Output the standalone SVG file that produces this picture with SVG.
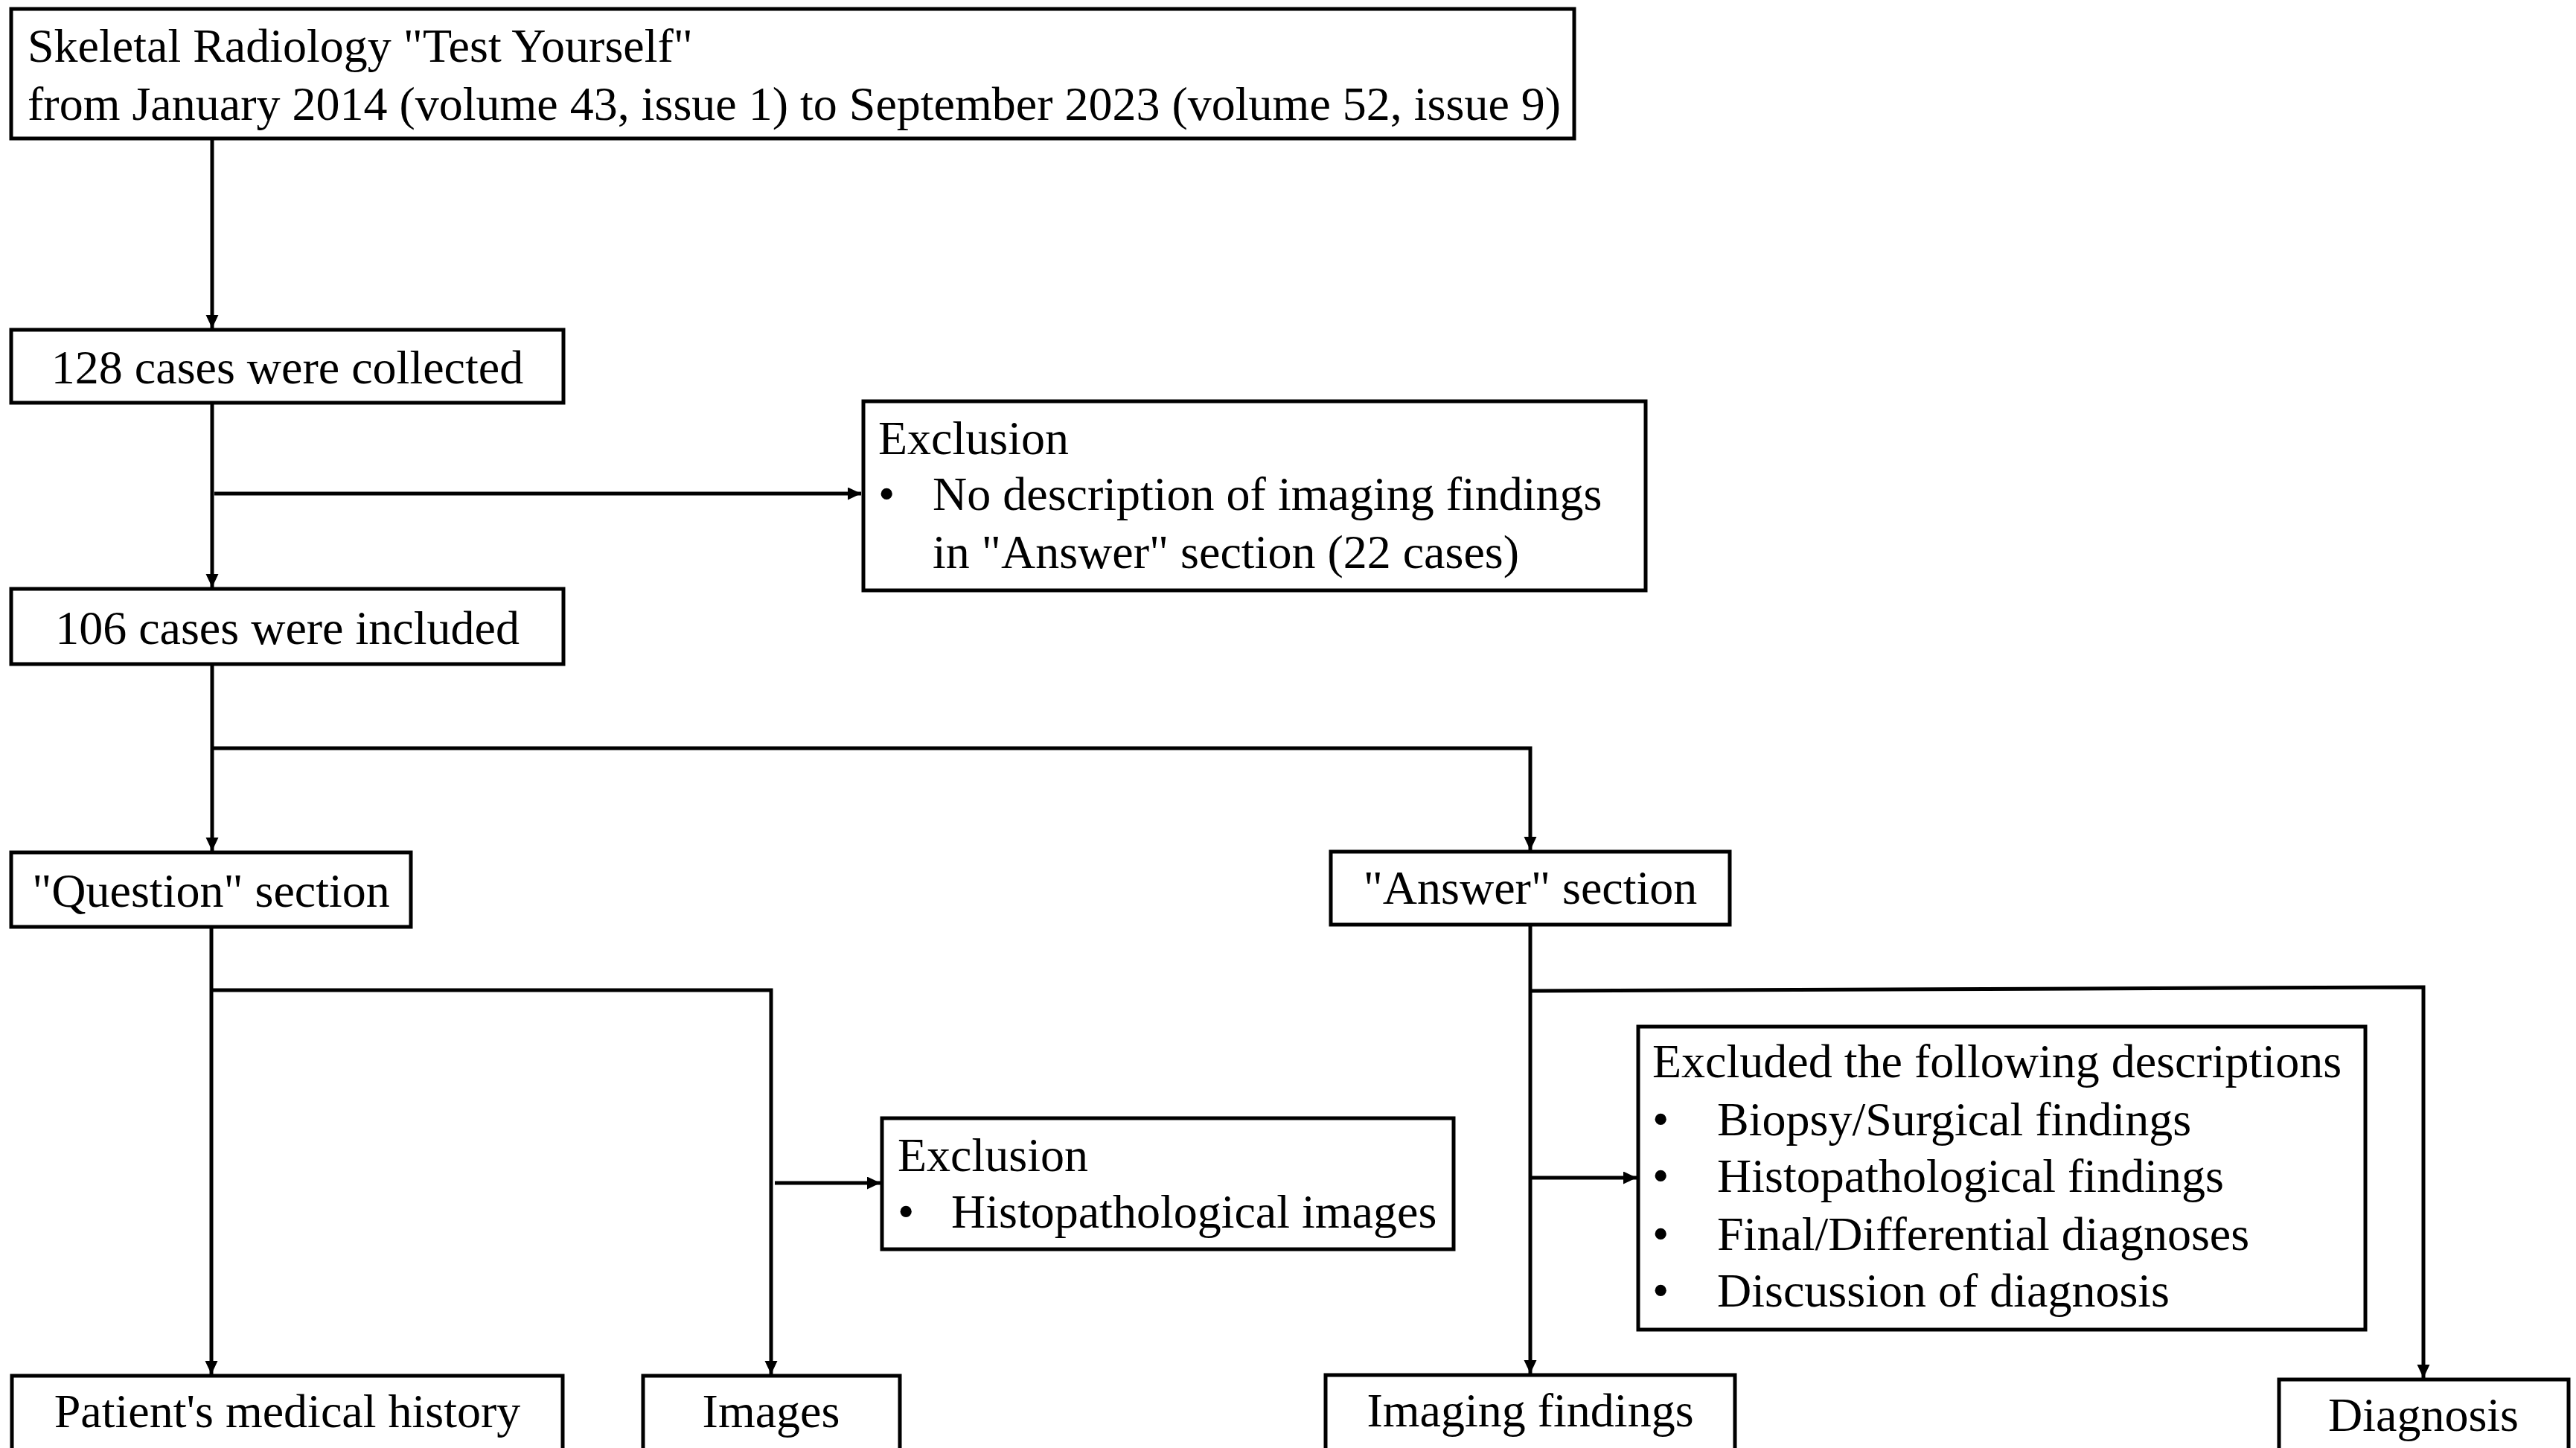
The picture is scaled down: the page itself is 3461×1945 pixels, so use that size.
<svg xmlns="http://www.w3.org/2000/svg" width="3461" height="1945" viewBox="0 0 3461 1945">
<style>
.box{fill:#fff;stroke:#000;stroke-width:5}
.t{font-family:"Liberation Serif","Times New Roman",serif;font-size:64px;fill:#000}
.c{text-anchor:middle}
.ln{fill:none;stroke:#000;stroke-width:5}
</style>
<defs>
<marker id="ah" markerUnits="userSpaceOnUse" markerWidth="20" markerHeight="18" refX="18" refY="8.5" orient="auto">
<path d="M0,0 L18,8.5 L0,17 z" fill="#000"/>
</marker>
</defs>
<rect width="3461" height="1945" fill="#fff"/>
<g id="connectors">
<path class="ln" d="M285,187 V441" marker-end="url(#ah)"/>
<path class="ln" d="M285,541 V789" marker-end="url(#ah)"/>
<path class="ln" d="M288,663 H1157" marker-end="url(#ah)"/>
<path class="ln" d="M285,892 V1143" marker-end="url(#ah)"/>
<path class="ln" d="M285,1005 H2056 V1142" marker-end="url(#ah)"/>
<path class="ln" d="M284,1245 V1846" marker-end="url(#ah)"/>
<path class="ln" d="M284,1330 H1036 V1846" marker-end="url(#ah)"/>
<path class="ln" d="M1041,1589 H1183" marker-end="url(#ah)"/>
<path class="ln" d="M2056,1242 V1845" marker-end="url(#ah)"/>
<path class="ln" d="M2056,1331 L3256,1326 V1851" marker-end="url(#ah)"/>
<path class="ln" d="M2057,1582 H2199" marker-end="url(#ah)"/>
</g>
<g id="n-source">
<rect class="box" x="15" y="12" width="2100" height="174"/>
<text class="t" x="37" y="83">Skeletal Radiology "Test Yourself"</text>
<text class="t" x="37" y="161">from January 2014 (volume 43, issue 1) to September 2023 (volume 52, issue 9)</text>
</g>
<g id="n-collected">
<rect class="box" x="15" y="443" width="742" height="98"/>
<text class="t c" x="386" y="515">128 cases were collected</text>
</g>
<g id="n-exclusion1">
<rect class="box" x="1160" y="539" width="1051" height="254"/>
<text class="t" x="1180" y="610">Exclusion</text>
<text class="t" x="1180" y="685">•</text>
<text class="t" x="1253" y="685">No description of imaging findings</text>
<text class="t" x="1253" y="763">in "Answer" section (22 cases)</text>
</g>
<g id="n-included">
<rect class="box" x="15" y="791" width="742" height="101"/>
<text class="t c" x="386" y="865">106 cases were included</text>
</g>
<g id="n-question">
<rect class="box" x="15" y="1145" width="537" height="100"/>
<text class="t c" x="283.5" y="1218">"Question" section</text>
</g>
<g id="n-answer">
<rect class="box" x="1788" y="1144" width="536" height="98"/>
<text class="t c" x="2056" y="1214">"Answer" section</text>
</g>
<g id="n-exclusion2">
<rect class="box" x="1185" y="1502" width="768" height="176"/>
<text class="t" x="1206" y="1573">Exclusion</text>
<text class="t" x="1206" y="1649">•</text>
<text class="t" x="1278" y="1649">Histopathological images</text>
</g>
<g id="n-excluded">
<rect class="box" x="2201" y="1379" width="977" height="407"/>
<text class="t" x="2220" y="1447">Excluded the following descriptions</text>
<text class="t" x="2220" y="1525">•</text>
<text class="t" x="2307" y="1525">Biopsy/Surgical findings</text>
<text class="t" x="2220" y="1601">•</text>
<text class="t" x="2307" y="1601">Histopathological findings</text>
<text class="t" x="2220" y="1679">•</text>
<text class="t" x="2307" y="1679">Final/Differential diagnoses</text>
<text class="t" x="2220" y="1755">•</text>
<text class="t" x="2307" y="1755">Discussion of diagnosis</text>
</g>
<g id="n-history">
<rect class="box" x="16" y="1848" width="740" height="110"/>
<text class="t c" x="386" y="1917">Patient's medical history</text>
</g>
<g id="n-images">
<rect class="box" x="864" y="1848" width="345" height="110"/>
<text class="t c" x="1036" y="1917">Images</text>
</g>
<g id="n-imaging">
<rect class="box" x="1781" y="1847" width="550" height="110"/>
<text class="t c" x="2056" y="1916">Imaging findings</text>
</g>
<g id="n-diagnosis">
<rect class="box" x="3062" y="1853" width="389" height="110"/>
<text class="t c" x="3256" y="1922">Diagnosis</text>
</g>
</svg>
